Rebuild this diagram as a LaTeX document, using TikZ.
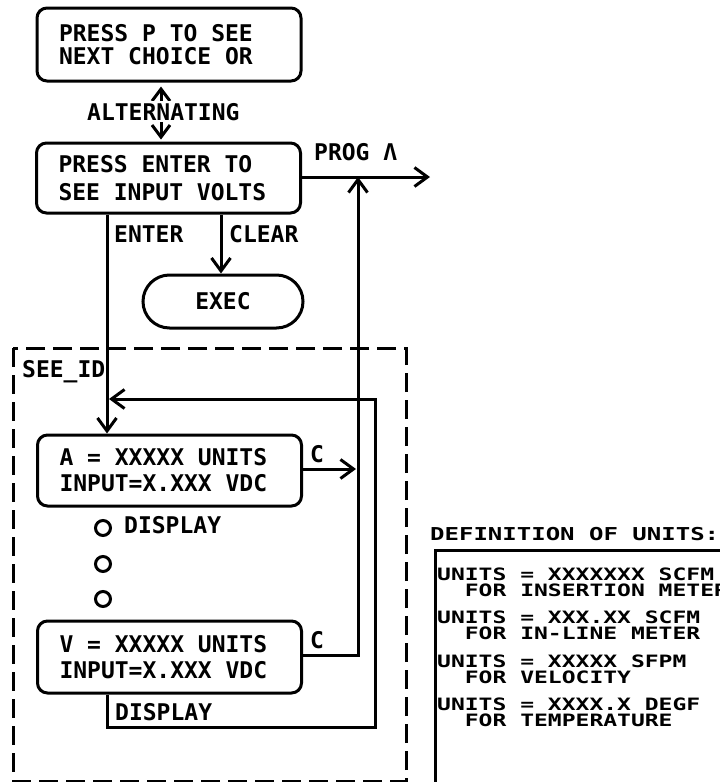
\documentclass[tikz,border=0pt]{standalone}
\usepackage{fontspec}
\usepackage{graphicx}
\usetikzlibrary{arrows.meta,shapes.misc}
\newfontfamily\monof{DejaVu Sans Mono Bold}
\newcommand{\dfnline}[1]{\scalebox{1}[0.74]{#1}}
\newcommand{\fixsp}{\spaceskip=0pt\xspaceskip=0pt\relax}
\begin{document}
\begin{tikzpicture}[x=1pt,y=-1pt,
  lw/.style={line width=3pt},
  tip/.style={-{Straight Barb[length=13pt,width=19pt]}},
  box/.style={draw,lw,rounded corners=10pt,inner xsep=22pt,inner ysep=0pt,
    text width=220pt,align=left,font=\monof\fontsize{23}{26}\selectfont},
  lbl/.style={anchor=base west,inner sep=0pt,font=\monof\fontsize{23}{26}\selectfont},
  dlbl/.style={anchor=base west,inner sep=0pt,font=\monof\fontsize{23}{26}\selectfont},
  dot/.style={circle,draw,lw,minimum size=15pt,inner sep=0pt}]
\useasboundingbox (0,0) rectangle (720,782);
\clip (0,0) rectangle (720,782);
% boxes
\node[box,minimum height=73pt,font=\monof\fontsize{23}{23}\selectfont] (b1) at (169,44.5) {\fixsp PRESS P TO SEE\\NEXT CHOICE OR};
\node[box,minimum height=70pt,font=\monof\fontsize{23}{28}\selectfont] (b2) at (168.5,178) {\fixsp PRESS ENTER TO\\SEE INPUT VOLTS};
\node[draw,lw,rounded rectangle,minimum width=160pt,minimum height=53pt,inner sep=0pt,
  font=\monof\fontsize{23}{26}\selectfont] (exec) at (223,301.5) {EXEC};
\node[box,minimum height=71pt] (bA) at (169.5,470.5) {\fixsp A = XXXXX UNITS\\INPUT=X.XXX VDC};
\node[box,minimum height=72pt] (bV) at (169.5,657) {\fixsp V = XXXXX UNITS\\INPUT=X.XXX VDC};
% helper coordinates
\coordinate (enterx) at (107,0);
\coordinate (clearx) at (221,0);
\coordinate (altx) at (161,0);
\coordinate (progend) at (430,177);
\coordinate (upx) at (358,0);
\coordinate (retx) at (375,0);
\coordinate (rety) at (0,399);
\coordinate (disy) at (0,727);
\coordinate (cAy) at (0,469);
\coordinate (cVy) at (0,655);
% ALTERNATING double arrow
\draw[lw,{Straight Barb[length=12pt,width=18pt]}-{Straight Barb[length=12pt,width=18pt]},shorten <=4pt,shorten >=2pt]
  (b1.south -| altx) -- (b2.north -| altx);
\node[lbl,fill=white,inner ysep=2pt] (alt) at (87,120) {ALTERNATING};
% PROG arrow
\draw[lw,tip] (b2.east |- progend) -- (progend);
\node[lbl] (prog) at (314,160) {PROG Λ};
% ENTER / CLEAR
\draw[lw,tip] (b2.south -| enterx) -- (bA.north -| enterx);
\node[lbl] (enter) at (114,242) {ENTER};
\draw[lw,tip] (b2.south -| clearx) -- (exec.north -| clearx);
\node[lbl] (clear) at (229,242) {CLEAR};
% dashed group
\draw[lw,dash pattern=on 19pt off 8pt] (13,348) rectangle (406,781);
\node[lbl] (seeid) at (22,377) {SEE\_ID};
% C from A
\draw[lw,tip] (bA.east |- cAy) -- ([xshift=-2pt]upx |- cAy);
\node[lbl] (cA) at (310,462) {C};
% C from V up to PROG line
\draw[lw,tip] (bV.east |- cVy) -- (upx |- cVy) -- (upx |- progend);
\node[lbl] (cV) at (310,648) {C};
% DISPLAY return loop
\draw[lw,tip] (bV.south -| enterx) -- (enterx |- disy) -- (retx |- disy) -- (retx |- rety) -- ([xshift=2pt]enterx |- rety);
\node[lbl] (disp2) at (115,720) {DISPLAY};
% dots
\node[dot] (d1) at (103,528) {};
\node[dot] (d2) at (103,564) {};
\node[dot] (d3) at (103,599) {};
\node[lbl] (disp1) at (124,533) {DISPLAY};
% definition box
\node[lbl,font=\monof\fontsize{24}{26}\selectfont] (dtitle) at (430,540) {\dfnline{DEFINITION OF UNITS:}};
\draw[lw] (435,550) rectangle (760,800);
\node[dlbl] (u1) at (437,580) {\dfnline{UNITS = XXXXXXX SCFM}};
\node[dlbl] (f1) at (437,596) {\dfnline{\ \ FOR INSERTION METER}};
\node[dlbl] (u2) at (437,623) {\dfnline{UNITS = XXX.XX SCFM}};
\node[dlbl] (f2) at (437,639) {\dfnline{\ \ FOR IN-LINE METER}};
\node[dlbl] (u3) at (437,667) {\dfnline{UNITS = XXXXX SFPM}};
\node[dlbl] (f3) at (437,683) {\dfnline{\ \ FOR VELOCITY}};
\node[dlbl] (u4) at (437,710) {\dfnline{UNITS = XXXX.X DEGF}};
\node[dlbl] (f4) at (437,726) {\dfnline{\ \ FOR TEMPERATURE}};
\end{tikzpicture}
\end{document}
